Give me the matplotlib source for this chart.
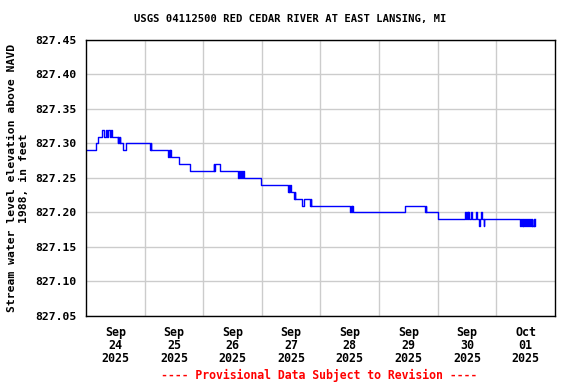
import numpy as np
import pandas as pd
import matplotlib
matplotlib.use("Agg")
import matplotlib.pyplot as plt
import matplotlib.dates as mdates

# gage height steps: hours since 2025-09-24 00:00 -> elevation (ft)
step_hours = [
    0.0, 4.0, 5.0, 6.5, 7.25, 8.0, 8.75, 9.0, 10.0, 10.25, 10.75,
    13.0, 13.25, 13.5, 13.75, 14.0, 15.0, 16.25,
    26.25, 26.5, 26.75,
    33.75, 34.0, 34.25, 34.5, 34.75, 38.0,
    42.75, 52.25, 52.5, 52.75, 53.0, 54.75,
    62.25, 62.5, 63.0, 63.5, 64.0, 64.25, 64.5,
    71.5, 82.75, 83.0, 83.25, 83.5, 83.75, 84.0,
    85.25, 85.5, 85.75, 88.5, 89.25, 91.75, 92.0, 92.25,
    108.25, 108.5, 108.75, 109.0, 109.5, 110.0,
    130.75, 138.75, 139.0, 139.25,
    144.0, 155.25, 155.5, 156.0, 156.25, 156.5, 157.0, 157.5, 158.0,
    159.5, 160.25, 161.0, 161.25, 161.75, 162.0, 162.75, 163.0,
    177.75, 178.0, 178.5, 178.75, 179.0, 179.5, 179.75, 180.25, 180.5,
    181.0, 181.25, 181.75, 182.0, 182.5, 182.75, 183.25, 183.5, 183.75,
]
step_values = [
    827.29, 827.30, 827.31, 827.32, 827.31, 827.32, 827.31, 827.32, 827.31, 827.32, 827.31,
    827.30, 827.31, 827.30, 827.31, 827.30, 827.29, 827.30,
    827.29, 827.30, 827.29,
    827.28, 827.29, 827.28, 827.29, 827.28, 827.27,
    827.26, 827.27, 827.26, 827.27, 827.27, 827.26,
    827.25, 827.26, 827.25, 827.26, 827.25, 827.26, 827.25,
    827.24, 827.23, 827.24, 827.23, 827.24, 827.23, 827.23,
    827.22, 827.23, 827.22, 827.21, 827.22, 827.21, 827.22, 827.21,
    827.20, 827.21, 827.20, 827.21, 827.20, 827.20,
    827.21, 827.20, 827.21, 827.20,
    827.19, 827.20, 827.19, 827.20, 827.19, 827.20, 827.19, 827.20, 827.19,
    827.20, 827.19, 827.18, 827.19, 827.20, 827.19, 827.18, 827.19,
    827.18, 827.19, 827.18, 827.19, 827.18, 827.19, 827.18, 827.19, 827.18,
    827.19, 827.18, 827.19, 827.18, 827.19, 827.18, 827.19, 827.18, 827.19,
]
end_hour = 184.0

y_ticks = [827.05, 827.10, 827.15, 827.20, 827.25, 827.30, 827.35, 827.40, 827.45]
day_labels = ["Sep\n24\n2025", "Sep\n25\n2025", "Sep\n26\n2025", "Sep\n27\n2025",
              "Sep\n28\n2025", "Sep\n29\n2025", "Sep\n30\n2025", "Oct\n01\n2025"]

start = pd.Timestamp("2025-09-24 00:00")
t = [start + pd.Timedelta(hours=h) for h in step_hours + [end_hour]]
v = step_values + [step_values[-1]]

mono = "DejaVu Sans Mono"

fig = plt.figure(figsize=(5.76, 3.84), dpi=100)
ax = fig.add_axes([0.1493, 0.1771, 0.8142, 0.7188])

ax.step(t, v, where="post", color="#0000ff", linewidth=1.0)

ax.set_xlim(start, start + pd.Timedelta(days=8))
ax.set_ylim(827.05, 827.45)

ax.set_yticks(y_ticks)
ax.set_yticklabels([f"{y:.2f}" for y in y_ticks], fontfamily=mono,
                   fontweight="bold", fontsize=8.2)

grid_days = [start + pd.Timedelta(days=d) for d in range(1, 8)]
label_days = [start + pd.Timedelta(hours=12 + 24 * d) for d in range(8)]
ax.set_xticks(grid_days, minor=False)
ax.set_xticklabels([""] * len(grid_days))
ax.set_xticks(label_days, minor=True)
ax.set_xticklabels(day_labels, minor=True, fontfamily=mono,
                   fontweight="bold", fontsize=8.4, linespacing=1.0)

ax.tick_params(axis="both", which="both", length=0, pad=7)
ax.grid(True, which="major", color="#cccccc", linewidth=1.0)
ax.set_axisbelow(True)
for s in ax.spines.values():
    s.set_color("black")
    s.set_linewidth(1.0)

ax.set_ylabel("Stream water level elevation above NAVD\n1988, in feet",
              fontfamily=mono, fontweight="bold", fontsize=8.2, labelpad=4,
              linespacing=1.3)

fig.text(0.5035, 0.95, "USGS 04112500 RED CEDAR RIVER AT EAST LANSING, MI",
         ha="center", va="center", fontfamily=mono, fontweight="bold", fontsize=7.6)
fig.text(0.5535, 0.023, "---- Provisional Data Subject to Revision ----",
         ha="center", va="center", fontfamily=mono, fontweight="bold",
         fontsize=8.3, color="red")

fig.savefig("out.png", dpi=100)
